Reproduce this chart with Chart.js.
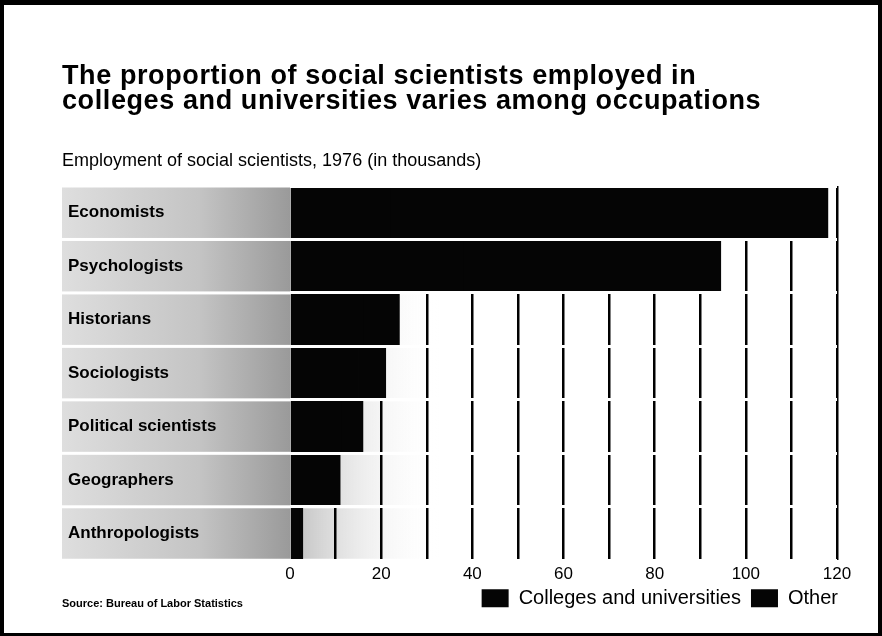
<!DOCTYPE html>
<html>
<head>
<meta charset="utf-8">
<script src="https://cdn.jsdelivr.net/npm/chart.js@4.4.1/dist/chart.umd.min.js"></script>
<style>
html,body{margin:0;padding:0;background:#fff}
#wrap{position:relative;width:882px;height:636px;overflow:hidden;font-family:"Liberation Sans",Arial,Helvetica,sans-serif;color:#000}
#frame{position:absolute;left:0;top:0;right:0;bottom:0;border:4px solid #000;border-top-width:5px;border-bottom-width:3px;pointer-events:none}
.title{position:absolute;left:62px;top:62.5px;font-weight:bold;font-size:27px;line-height:25.5px;letter-spacing:0.6px;white-space:nowrap}
.sub{position:absolute;left:62px;top:150px;font-size:18px;line-height:20px;white-space:nowrap}
.source{position:absolute;left:62px;top:597px;font-weight:bold;font-size:11px;white-space:nowrap}
canvas{position:absolute;left:0;top:0}
</style>
</head>
<body>
<div id="wrap">
<canvas id="chart" width="882" height="636"></canvas>
<div class="title">The proportion of social scientists employed in<br>colleges and universities varies among occupations</div>
<div class="sub">Employment of social scientists, 1976 (in thousands)</div>
<div class="source">Source: Bureau of Labor Statistics</div>
<div id="frame"></div>
</div>
<script>
// values (thousands)
const occupations=["Economists","Psychologists","Historians","Sociologists","Political scientists","Geographers","Anthropologists"]
const collegeValues=[22,38,16,15,11.2,6,2]
const otherValues=[96,56.5,8,6,4.8,5,0.8]
const seriesNames=["Colleges and universities","Other"]

// gray stipple behind the row labels
const stipple={
id:"stipple",
beforeDraw(chart){
const ctx=chart.ctx
const y=chart.scales.y
const area=chart.chartArea
const half=Math.abs(y.getPixelForValue(1)-y.getPixelForValue(0))/2
occupations.forEach((o,i)=>{
const c=y.getPixelForValue(i)
const top=c-half+1.5
const h=half*2-3
let g=ctx.createLinearGradient(y.left-6,0,area.left,0)
g.addColorStop(0,"#dedede")
g.addColorStop(0.6,"#c4c4c4")
g.addColorStop(1,"#9a9a9a")
ctx.fillStyle=g
ctx.fillRect(y.left-6,top,area.left-(y.left-6),h)
g=ctx.createLinearGradient(area.left,0,area.left+150,0)
g.addColorStop(0,"#bdbdbd")
g.addColorStop(1,"rgba(255,255,255,0)")
ctx.fillStyle=g
ctx.fillRect(area.left,top,150,h)
})
}
}

// legend sits right of the plot edge and tucked up under the tick labels
const legendShift={
id:"legendShift",
afterLayout(chart){
const lg=chart.legend
if(lg){
lg.left+=11
lg.right+=11
lg.top-=12
lg.bottom-=12
}
}
}

const ctx=document.getElementById("chart").getContext("2d")

new Chart(ctx,{
type:"bar",
data:{
labels:occupations,
datasets:[{
label:seriesNames[0],
data:collegeValues,
backgroundColor:"#050505",
borderWidth:0,
barPercentage:1,
categoryPercentage:1
},{
label:seriesNames[1],
data:otherValues,
backgroundColor:"#050505",
borderWidth:0,
barPercentage:1,
categoryPercentage:1
}]
},
options:{
indexAxis:"y",
responsive:false,
animation:false,
layout:{padding:{left:68,top:186,right:45,bottom:5.75}},
scales:{
x:{
stacked:true,
min:0,
max:120,
border:{display:false},
grid:{
color:(c)=>c.tick&&c.tick.value===0?"rgba(0,0,0,0)":"#000",
lineWidth:2.5,
drawTicks:false
},
afterFit(scale){scale.height=30},
ticks:{
stepSize:10,
autoSkip:false,
maxRotation:0,
padding:3.5,
color:"#000",
font:{family:"Liberation Sans",size:17},
callback:(v)=>v%20===0?v:""
}
},
y:{
stacked:true,
z:1,
border:{display:false},
// white row separators drawn over the bars
grid:{color:"#fff",lineWidth:3,drawTicks:false,z:1},
afterFit(scale){scale.width=222},
ticks:{
crossAlign:"far",
color:"#000",
font:{family:"Liberation Sans",size:17,weight:"bold"}
}
}
},
plugins:{
legend:{
position:"bottom",
align:"end",
labels:{
boxWidth:27,
boxHeight:18,
padding:10,
color:"#000",
font:{family:"Liberation Sans",size:20}
}
},
tooltip:{enabled:false}
}
},
plugins:[stipple,legendShift]
})
</script>
</body>
</html>
